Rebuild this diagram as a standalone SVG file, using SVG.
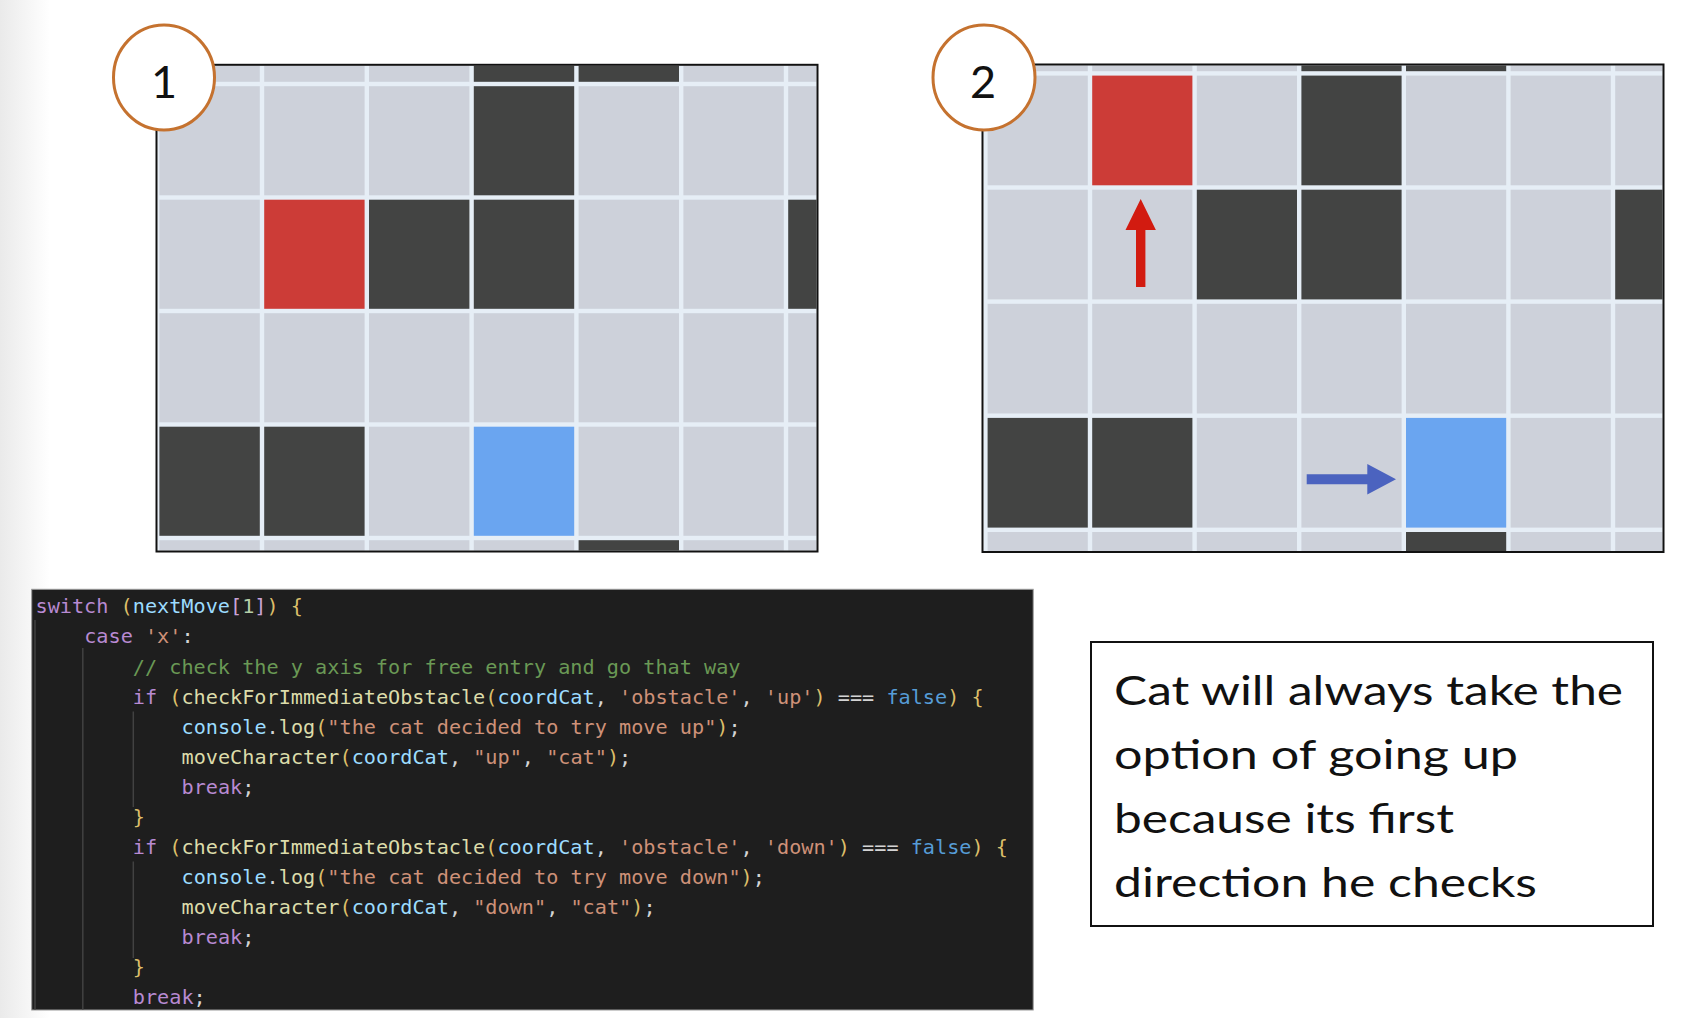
<svg xmlns="http://www.w3.org/2000/svg" width="1692" height="1018" viewBox="0 0 1692 1018">
<defs>
<linearGradient id="edge" x1="0" y1="0" x2="1" y2="0">
<stop offset="0" stop-color="#EAEAEA"/>
<stop offset="1" stop-color="#FFFFFF"/>
</linearGradient>
<clipPath id="clip1"><rect x="157.5" y="65.8" width="659" height="484.7"/></clipPath>
<clipPath id="clip2"><rect x="983.5" y="65.5" width="679" height="486"/></clipPath>
<style>
.line{fill:#E6EEF6}
.l{fill:#CDD1DA}
.d{fill:#434443}
.r{fill:#CC3C37}
.bl{fill:#6AA5F0}
.frame{fill:none;stroke:#111;stroke-width:2}
.badge{fill:#FFFFFF;stroke:#C5722F;stroke-width:3}
.num{font-family:Lato,"Noto Sans",sans-serif;font-size:45px;fill:#111;text-anchor:middle}
.code{font-family:"DejaVu Sans Mono","Liberation Mono",monospace;font-size:20.2px;white-space:pre}
.k{fill:#B88AD2}
.v{fill:#9CDCFE}
.f{fill:#DCDCAA}
.s{fill:#CE9178}
.c{fill:#6A9955}
.n{fill:#B5CEA8}
.b{fill:#569CD6}
.p{fill:#D4D4D4}
.g{fill:#DCBE6A}
.o{fill:#C9A2D8}
.guide{stroke:#424242;stroke-width:1.5}
.note{font-family:Lato,"Noto Sans",sans-serif;font-size:41px;fill:#111}
</style>
</defs>
<rect x="0" y="0" width="1692" height="1018" fill="#FFFFFF"/>
<rect x="0" y="0" width="50" height="1018" fill="url(#edge)"/>

<g id="panel1">
<g clip-path="url(#clip1)">
<rect class="line" x="156" y="64" width="662" height="488"/>
<g id="p1-r0">
<rect class="l" x="159.4" y="-27.3" width="100.4" height="109.1"/>
<rect class="l" x="264.2" y="-27.3" width="100.4" height="109.1"/>
<rect class="l" x="369" y="-27.3" width="100.4" height="109.1"/>
<rect class="d" x="473.8" y="-27.3" width="100.4" height="109.1"/>
<rect class="d" x="578.6" y="-27.3" width="100.4" height="109.1"/>
<rect class="l" x="683.4" y="-27.3" width="100.4" height="109.1"/>
<rect class="l" x="788.2" y="-27.3" width="100.4" height="109.1"/>
</g>
<g id="p1-r1">
<rect class="l" x="159.4" y="86.2" width="100.4" height="109.1"/>
<rect class="l" x="264.2" y="86.2" width="100.4" height="109.1"/>
<rect class="l" x="369" y="86.2" width="100.4" height="109.1"/>
<rect class="d" x="473.8" y="86.2" width="100.4" height="109.1"/>
<rect class="l" x="578.6" y="86.2" width="100.4" height="109.1"/>
<rect class="l" x="683.4" y="86.2" width="100.4" height="109.1"/>
<rect class="l" x="788.2" y="86.2" width="100.4" height="109.1"/>
</g>
<g id="p1-r2">
<rect class="l" x="159.4" y="199.7" width="100.4" height="109.1"/>
<rect class="r" x="264.2" y="199.7" width="100.4" height="109.1"/>
<rect class="d" x="369" y="199.7" width="100.4" height="109.1"/>
<rect class="d" x="473.8" y="199.7" width="100.4" height="109.1"/>
<rect class="l" x="578.6" y="199.7" width="100.4" height="109.1"/>
<rect class="l" x="683.4" y="199.7" width="100.4" height="109.1"/>
<rect class="d" x="788.2" y="199.7" width="100.4" height="109.1"/>
</g>
<g id="p1-r3">
<rect class="l" x="159.4" y="313.2" width="100.4" height="109.1"/>
<rect class="l" x="264.2" y="313.2" width="100.4" height="109.1"/>
<rect class="l" x="369" y="313.2" width="100.4" height="109.1"/>
<rect class="l" x="473.8" y="313.2" width="100.4" height="109.1"/>
<rect class="l" x="578.6" y="313.2" width="100.4" height="109.1"/>
<rect class="l" x="683.4" y="313.2" width="100.4" height="109.1"/>
<rect class="l" x="788.2" y="313.2" width="100.4" height="109.1"/>
</g>
<g id="p1-r4">
<rect class="d" x="159.4" y="426.7" width="100.4" height="109.1"/>
<rect class="d" x="264.2" y="426.7" width="100.4" height="109.1"/>
<rect class="l" x="369" y="426.7" width="100.4" height="109.1"/>
<rect class="bl" x="473.8" y="426.7" width="100.4" height="109.1"/>
<rect class="l" x="578.6" y="426.7" width="100.4" height="109.1"/>
<rect class="l" x="683.4" y="426.7" width="100.4" height="109.1"/>
<rect class="l" x="788.2" y="426.7" width="100.4" height="109.1"/>
</g>
<g id="p1-r5">
<rect class="l" x="159.4" y="540.2" width="100.4" height="109.1"/>
<rect class="l" x="264.2" y="540.2" width="100.4" height="109.1"/>
<rect class="l" x="369" y="540.2" width="100.4" height="109.1"/>
<rect class="l" x="473.8" y="540.2" width="100.4" height="109.1"/>
<rect class="d" x="578.6" y="540.2" width="100.4" height="109.1"/>
<rect class="l" x="683.4" y="540.2" width="100.4" height="109.1"/>
<rect class="l" x="788.2" y="540.2" width="100.4" height="109.1"/>
</g>
</g>
<rect class="frame" x="156.5" y="64.8" width="661" height="486.7"/>
</g>

<g id="badge1">
<ellipse class="badge" cx="164" cy="77.5" rx="50.5" ry="52.5"/>
<text class="num" x="164" y="97.5">1</text>
</g>

<g id="panel2">
<g clip-path="url(#clip2)">
<rect class="line" x="982" y="64" width="682" height="489"/>
<g id="p2-r0">
<rect class="l" x="987.6" y="-38.5" width="100.2" height="109.7"/>
<rect class="l" x="1092.2" y="-38.5" width="100.2" height="109.7"/>
<rect class="l" x="1196.8" y="-38.5" width="100.2" height="109.7"/>
<rect class="d" x="1301.4" y="-38.5" width="100.2" height="109.7"/>
<rect class="d" x="1406" y="-38.5" width="100.2" height="109.7"/>
<rect class="l" x="1510.6" y="-38.5" width="100.2" height="109.7"/>
<rect class="l" x="1615.2" y="-38.5" width="100.2" height="109.7"/>
</g>
<g id="p2-r1">
<rect class="l" x="987.6" y="75.6" width="100.2" height="109.7"/>
<rect class="r" x="1092.2" y="75.6" width="100.2" height="109.7"/>
<rect class="l" x="1196.8" y="75.6" width="100.2" height="109.7"/>
<rect class="d" x="1301.4" y="75.6" width="100.2" height="109.7"/>
<rect class="l" x="1406" y="75.6" width="100.2" height="109.7"/>
<rect class="l" x="1510.6" y="75.6" width="100.2" height="109.7"/>
<rect class="l" x="1615.2" y="75.6" width="100.2" height="109.7"/>
</g>
<g id="p2-r2">
<rect class="l" x="987.6" y="189.7" width="100.2" height="109.7"/>
<rect class="l" x="1092.2" y="189.7" width="100.2" height="109.7"/>
<rect class="d" x="1196.8" y="189.7" width="100.2" height="109.7"/>
<rect class="d" x="1301.4" y="189.7" width="100.2" height="109.7"/>
<rect class="l" x="1406" y="189.7" width="100.2" height="109.7"/>
<rect class="l" x="1510.6" y="189.7" width="100.2" height="109.7"/>
<rect class="d" x="1615.2" y="189.7" width="100.2" height="109.7"/>
</g>
<g id="p2-r3">
<rect class="l" x="987.6" y="303.8" width="100.2" height="109.7"/>
<rect class="l" x="1092.2" y="303.8" width="100.2" height="109.7"/>
<rect class="l" x="1196.8" y="303.8" width="100.2" height="109.7"/>
<rect class="l" x="1301.4" y="303.8" width="100.2" height="109.7"/>
<rect class="l" x="1406" y="303.8" width="100.2" height="109.7"/>
<rect class="l" x="1510.6" y="303.8" width="100.2" height="109.7"/>
<rect class="l" x="1615.2" y="303.8" width="100.2" height="109.7"/>
</g>
<g id="p2-r4">
<rect class="d" x="987.6" y="417.9" width="100.2" height="109.7"/>
<rect class="d" x="1092.2" y="417.9" width="100.2" height="109.7"/>
<rect class="l" x="1196.8" y="417.9" width="100.2" height="109.7"/>
<rect class="l" x="1301.4" y="417.9" width="100.2" height="109.7"/>
<rect class="bl" x="1406" y="417.9" width="100.2" height="109.7"/>
<rect class="l" x="1510.6" y="417.9" width="100.2" height="109.7"/>
<rect class="l" x="1615.2" y="417.9" width="100.2" height="109.7"/>
</g>
<g id="p2-r5">
<rect class="l" x="987.6" y="532" width="100.2" height="109.7"/>
<rect class="l" x="1092.2" y="532" width="100.2" height="109.7"/>
<rect class="l" x="1196.8" y="532" width="100.2" height="109.7"/>
<rect class="l" x="1301.4" y="532" width="100.2" height="109.7"/>
<rect class="d" x="1406" y="532" width="100.2" height="109.7"/>
<rect class="l" x="1510.6" y="532" width="100.2" height="109.7"/>
<rect class="l" x="1615.2" y="532" width="100.2" height="109.7"/>
</g>
</g>
<rect class="frame" x="982.5" y="64.5" width="681" height="487.5"/>
</g>

<g id="badge2">
<ellipse class="badge" cx="984" cy="77.5" rx="51" ry="52.5"/>
<text class="num" x="983" y="97.5">2</text>
</g>

<g id="connectors">
<path id="arrow-up" d="M1136 287 L1136 230 L1125.5 230 L1140.7 199 L1155.9 230 L1145.4 230 L1145.4 287 Z" fill="#D21B10"/>
<path id="arrow-right" d="M1306.7 474.2 L1367.3 474.2 L1367.3 464 L1396 479.2 L1367.3 494.4 L1367.3 484.2 L1306.7 484.2 Z" fill="#4B63BF"/>
</g>

<g id="code">
<rect x="31.7" y="589.3" width="1001.5" height="420.7" fill="#1E1E1E" stroke="#9A9A9A" stroke-width="1"/>
<line class="guide" x1="35" y1="620" x2="35" y2="1009.5"/>
<line class="guide" x1="82.8" y1="648" x2="82.8" y2="1009.5"/>
<line class="guide" x1="133.3" y1="711.5" x2="133.3" y2="807"/>
<line class="guide" x1="133.3" y1="861.5" x2="133.3" y2="958"/>
<text class="code" x="35.5" y="613.3"><tspan class="k">switch</tspan><tspan class="p"> </tspan><tspan class="g">(</tspan><tspan class="v">nextMove</tspan><tspan class="o">[</tspan><tspan class="n">1</tspan><tspan class="o">]</tspan><tspan class="g">)</tspan><tspan class="p"> </tspan><tspan class="g">{</tspan></text>
<text class="code" x="84.2" y="643.4"><tspan class="k">case</tspan><tspan class="p"> </tspan><tspan class="s">'x'</tspan><tspan class="p">:</tspan></text>
<text class="code" x="132.8" y="673.5"><tspan class="c">// check the y axis for free entry and go that way</tspan></text>
<text class="code" x="132.8" y="703.5"><tspan class="k">if</tspan><tspan class="p"> </tspan><tspan class="g">(</tspan><tspan class="f">checkForImmediateObstacle</tspan><tspan class="g">(</tspan><tspan class="v">coordCat</tspan><tspan class="p">, </tspan><tspan class="s">'obstacle'</tspan><tspan class="p">, </tspan><tspan class="s">'up'</tspan><tspan class="g">)</tspan><tspan class="p"> === </tspan><tspan class="b">false</tspan><tspan class="g">)</tspan><tspan class="p"> </tspan><tspan class="g">{</tspan></text>
<text class="code" x="181.5" y="733.6"><tspan class="v">console</tspan><tspan class="p">.</tspan><tspan class="f">log</tspan><tspan class="g">(</tspan><tspan class="s">"the cat decided to try move up"</tspan><tspan class="g">)</tspan><tspan class="p">;</tspan></text>
<text class="code" x="181.5" y="763.7"><tspan class="f">moveCharacter</tspan><tspan class="g">(</tspan><tspan class="v">coordCat</tspan><tspan class="p">, </tspan><tspan class="s">"up"</tspan><tspan class="p">, </tspan><tspan class="s">"cat"</tspan><tspan class="g">)</tspan><tspan class="p">;</tspan></text>
<text class="code" x="181.5" y="793.8"><tspan class="k">break</tspan><tspan class="p">;</tspan></text>
<text class="code" x="132.8" y="823.9"><tspan class="g">}</tspan></text>
<text class="code" x="132.8" y="854"><tspan class="k">if</tspan><tspan class="p"> </tspan><tspan class="g">(</tspan><tspan class="f">checkForImmediateObstacle</tspan><tspan class="g">(</tspan><tspan class="v">coordCat</tspan><tspan class="p">, </tspan><tspan class="s">'obstacle'</tspan><tspan class="p">, </tspan><tspan class="s">'down'</tspan><tspan class="g">)</tspan><tspan class="p"> === </tspan><tspan class="b">false</tspan><tspan class="g">)</tspan><tspan class="p"> </tspan><tspan class="g">{</tspan></text>
<text class="code" x="181.5" y="884"><tspan class="v">console</tspan><tspan class="p">.</tspan><tspan class="f">log</tspan><tspan class="g">(</tspan><tspan class="s">"the cat decided to try move down"</tspan><tspan class="g">)</tspan><tspan class="p">;</tspan></text>
<text class="code" x="181.5" y="914.1"><tspan class="f">moveCharacter</tspan><tspan class="g">(</tspan><tspan class="v">coordCat</tspan><tspan class="p">, </tspan><tspan class="s">"down"</tspan><tspan class="p">, </tspan><tspan class="s">"cat"</tspan><tspan class="g">)</tspan><tspan class="p">;</tspan></text>
<text class="code" x="181.5" y="944.2"><tspan class="k">break</tspan><tspan class="p">;</tspan></text>
<text class="code" x="132.8" y="974.3"><tspan class="g">}</tspan></text>
<text class="code" x="132.8" y="1004.4"><tspan class="k">break</tspan><tspan class="p">;</tspan></text>
</g>

<g id="note">
<rect x="1091" y="642" width="562" height="284" fill="#FFFFFF" stroke="#111" stroke-width="2"/>
<text class="note" x="1114" y="704.5" textLength="509" lengthAdjust="spacingAndGlyphs">Cat will always take the</text>
<text class="note" x="1114" y="768.5" textLength="404" lengthAdjust="spacingAndGlyphs">option of going up</text>
<text class="note" x="1114" y="832.5" textLength="340" lengthAdjust="spacingAndGlyphs">because its first</text>
<text class="note" x="1114" y="896.5" textLength="423" lengthAdjust="spacingAndGlyphs">direction he checks</text>
</g>
</svg>
